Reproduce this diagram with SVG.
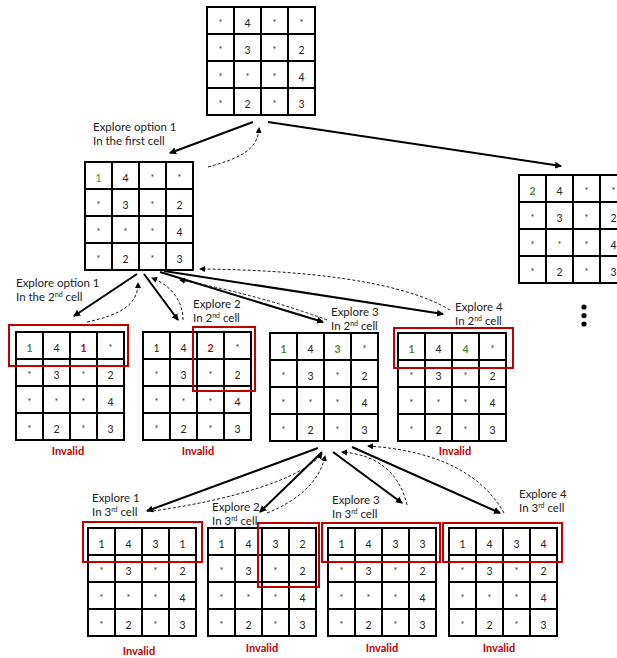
<svg xmlns="http://www.w3.org/2000/svg" width="617" height="658" viewBox="0 0 617 658">
<style>
.gl{fill:none;stroke:#000;stroke-width:2}
.n{font-family:Lato,"Liberation Sans",sans-serif;font-size:10.5px;text-anchor:middle;fill:#222}
.s{font-family:Lato,"Liberation Sans",sans-serif;font-size:9px;text-anchor:middle;fill:#333}
.g{fill:#548235}
.b{font-weight:bold}
.r{fill:#c00000;font-weight:bold}
.rb{fill:none;stroke:#c00000;stroke-width:2}
.lb{font-family:Lato,"Liberation Sans",sans-serif;font-size:11.5px;fill:#222}
.sup{font-size:7px}
.inv{font-family:Lato,"Liberation Sans",sans-serif;font-size:11px;font-weight:bold;fill:#c00000;text-anchor:middle}
.sa{fill:none;stroke:#000;stroke-width:2}
.da{fill:none;stroke:#000;stroke-width:0.9;stroke-dasharray:3 2}
</style>
<defs>
<marker id="ah" markerWidth="8" markerHeight="8" refX="6" refY="4" orient="auto" markerUnits="userSpaceOnUse"><path d="M0,0.5 L7,4 L0,7.5 Z" fill="#000"/></marker>
<marker id="dh" markerWidth="7" markerHeight="7" refX="5" refY="3.5" orient="auto" markerUnits="userSpaceOnUse"><path d="M0,0.5 L6,3.5 L0,6.5 Z" fill="#000"/></marker>
<path id="lines" d="M0,0 H108 V108 H0 Z M27,0 V108 M54,0 V108 M81,0 V108 M0,27 H108 M0,54 H108 M0,81 H108"/>
</defs>

<g id="connectors">
<path class="sa" d="M253,122 L170,153" marker-end="url(#ah)"/>
<path class="sa" d="M268,122 L561,166" marker-end="url(#ah)"/>
<path class="da" d="M208,167 C240,158 258,150 259,128" marker-end="url(#dh)"/>
<path class="sa" d="M137,274 L74,316" marker-end="url(#ah)"/>
<path class="sa" d="M144,274 L178,320" marker-end="url(#ah)"/>
<path class="sa" d="M160,272 L323,322" marker-end="url(#ah)"/>
<path class="sa" d="M164,271 L443,314" marker-end="url(#ah)"/>
<path class="da" d="M87,322 C120,315 138,305 138,283" marker-end="url(#dh)"/>
<path class="da" d="M183,320 C183,300 170,285 152,278" marker-end="url(#dh)"/>
<path class="da" d="M327,320 Q260,295 180,280" marker-end="url(#dh)"/>
<path class="da" d="M450,310 C400,280 300,270 200,269" marker-end="url(#dh)"/>
<path class="sa" d="M318,448 L147,511" marker-end="url(#ah)"/>
<path class="sa" d="M322,452 L260,512" marker-end="url(#ah)"/>
<path class="sa" d="M333,452 L402,503" marker-end="url(#ah)"/>
<path class="sa" d="M352,447 L500,513" marker-end="url(#ah)"/>
<path class="da" d="M153,511 C230,500 300,480 322,454" marker-end="url(#dh)"/>
<path class="da" d="M267,513 C300,500 320,480 325,456" marker-end="url(#dh)"/>
<path class="da" d="M407,505 C400,475 380,455 342,452" marker-end="url(#dh)"/>
<path class="da" d="M504,513 C480,470 430,450 368,446" marker-end="url(#dh)"/>
</g>

<g id="g0" transform="translate(207,7)">
<use href="#lines" class="gl"/>
<text class="s" x="13.5" y="19">*</text><text class="n" x="40.5" y="20">4</text><text class="s" x="67.5" y="19">*</text><text class="s" x="94.5" y="19">*</text>
<text class="s" x="13.5" y="46">*</text><text class="n" x="40.5" y="47">3</text><text class="s" x="67.5" y="46">*</text><text class="n" x="94.5" y="47">2</text>
<text class="s" x="13.5" y="73">*</text><text class="s" x="40.5" y="73">*</text><text class="s" x="67.5" y="73">*</text><text class="n" x="94.5" y="74">4</text>
<text class="s" x="13.5" y="100">*</text><text class="n" x="40.5" y="101">2</text><text class="s" x="67.5" y="100">*</text><text class="n" x="94.5" y="101">3</text>
</g>

<g id="g1" transform="translate(85,162)">
<use href="#lines" class="gl"/>
<text class="n g" x="13.5" y="20">1</text><text class="n" x="40.5" y="20">4</text><text class="s" x="67.5" y="19">*</text><text class="s" x="94.5" y="19">*</text>
<text class="s" x="13.5" y="46">*</text><text class="n" x="40.5" y="47">3</text><text class="s" x="67.5" y="46">*</text><text class="n" x="94.5" y="47">2</text>
<text class="s" x="13.5" y="73">*</text><text class="s" x="40.5" y="73">*</text><text class="s" x="67.5" y="73">*</text><text class="n" x="94.5" y="74">4</text>
<text class="s" x="13.5" y="100">*</text><text class="n" x="40.5" y="101">2</text><text class="s" x="67.5" y="100">*</text><text class="n" x="94.5" y="101">3</text>
</g>

<g id="g2" transform="translate(519,175)">
<use href="#lines" class="gl"/>
<text class="n g b" x="13.5" y="20">2</text><text class="n" x="40.5" y="20">4</text><text class="s" x="67.5" y="19">*</text><text class="s" x="94.5" y="19">*</text>
<text class="s" x="13.5" y="46">*</text><text class="n" x="40.5" y="47">3</text><text class="s" x="67.5" y="46">*</text><text class="n" x="94.5" y="47">2</text>
<text class="s" x="13.5" y="73">*</text><text class="s" x="40.5" y="73">*</text><text class="s" x="67.5" y="73">*</text><text class="n" x="94.5" y="74">4</text>
<text class="s" x="13.5" y="100">*</text><text class="n" x="40.5" y="101">2</text><text class="s" x="67.5" y="100">*</text><text class="n" x="94.5" y="101">3</text>
</g>

<g id="dots" fill="#000">
<circle cx="584" cy="307" r="2.6"/><circle cx="584" cy="315.5" r="2.6"/><circle cx="584" cy="324" r="2.6"/>
</g>

<g id="l3a" transform="translate(16,332)">
<use href="#lines" class="gl"/>
<text class="n g b" x="13.5" y="20">1</text><text class="n" x="40.5" y="20">4</text><text class="n r" x="67.5" y="20">1</text><text class="s" x="94.5" y="19">*</text>
<text class="s" x="13.5" y="46">*</text><text class="n" x="40.5" y="47">3</text><text class="s" x="67.5" y="46">*</text><text class="n" x="94.5" y="47">2</text>
<text class="s" x="13.5" y="73">*</text><text class="s" x="40.5" y="73">*</text><text class="s" x="67.5" y="73">*</text><text class="n" x="94.5" y="74">4</text>
<text class="s" x="13.5" y="100">*</text><text class="n" x="40.5" y="101">2</text><text class="s" x="67.5" y="100">*</text><text class="n" x="94.5" y="101">3</text>
<rect class="rb" x="-7" y="-7" width="119" height="41"/>
</g>

<g id="l3b" transform="translate(143,332)">
<use href="#lines" class="gl"/>
<text class="n" x="13.5" y="20">1</text><text class="n" x="40.5" y="20">4</text><text class="n r" x="67.5" y="20">2</text><text class="s" x="94.5" y="19">*</text>
<text class="s" x="13.5" y="46">*</text><text class="n" x="40.5" y="47">3</text><text class="s" x="67.5" y="46">*</text><text class="n" x="94.5" y="47">2</text>
<text class="s" x="13.5" y="73">*</text><text class="s" x="40.5" y="73">*</text><text class="s" x="67.5" y="73">*</text><text class="n" x="94.5" y="74">4</text>
<text class="s" x="13.5" y="100">*</text><text class="n" x="40.5" y="101">2</text><text class="s" x="67.5" y="100">*</text><text class="n" x="94.5" y="101">3</text>
<rect class="rb" x="50" y="-5" width="62" height="64"/>
</g>

<g id="l3c" transform="translate(270,333)">
<use href="#lines" class="gl"/>
<text class="n g b" x="13.5" y="20">1</text><text class="n" x="40.5" y="20">4</text><text class="n g b" x="67.5" y="20">3</text><text class="s" x="94.5" y="19">*</text>
<text class="s" x="13.5" y="46">*</text><text class="n" x="40.5" y="47">3</text><text class="s" x="67.5" y="46">*</text><text class="n" x="94.5" y="47">2</text>
<text class="s" x="13.5" y="73">*</text><text class="s" x="40.5" y="73">*</text><text class="s" x="67.5" y="73">*</text><text class="n" x="94.5" y="74">4</text>
<text class="s" x="13.5" y="100">*</text><text class="n" x="40.5" y="101">2</text><text class="s" x="67.5" y="100">*</text><text class="n" x="94.5" y="101">3</text>
</g>

<g id="l3d" transform="translate(398,333)">
<use href="#lines" class="gl"/>
<text class="n g b" x="13.5" y="20">1</text><text class="n" x="40.5" y="20">4</text><text class="n g b" x="67.5" y="20">4</text><text class="s" x="94.5" y="19">*</text>
<text class="s" x="13.5" y="46">*</text><text class="n" x="40.5" y="47">3</text><text class="s" x="67.5" y="46">*</text><text class="n" x="94.5" y="47">2</text>
<text class="s" x="13.5" y="73">*</text><text class="s" x="40.5" y="73">*</text><text class="s" x="67.5" y="73">*</text><text class="n" x="94.5" y="74">4</text>
<text class="s" x="13.5" y="100">*</text><text class="n" x="40.5" y="101">2</text><text class="s" x="67.5" y="100">*</text><text class="n" x="94.5" y="101">3</text>
<rect class="rb" x="-4" y="-5" width="119" height="40"/>
</g>

<g id="l4a" transform="translate(88,528)">
<use href="#lines" class="gl"/>
<text class="n" x="13.5" y="20">1</text><text class="n" x="40.5" y="20">4</text><text class="n" x="67.5" y="20">3</text><text class="n" x="94.5" y="20">1</text>
<text class="s" x="13.5" y="46">*</text><text class="n" x="40.5" y="47">3</text><text class="s" x="67.5" y="46">*</text><text class="n" x="94.5" y="47">2</text>
<text class="s" x="13.5" y="73">*</text><text class="s" x="40.5" y="73">*</text><text class="s" x="67.5" y="73">*</text><text class="n" x="94.5" y="74">4</text>
<text class="s" x="13.5" y="100">*</text><text class="n" x="40.5" y="101">2</text><text class="s" x="67.5" y="100">*</text><text class="n" x="94.5" y="101">3</text>
<rect class="rb" x="-5" y="-6" width="119" height="40"/>
</g>

<g id="l4b" transform="translate(208,528)">
<use href="#lines" class="gl"/>
<text class="n" x="13.5" y="20">1</text><text class="n" x="40.5" y="20">4</text><text class="n" x="67.5" y="20">3</text><text class="n" x="94.5" y="20">2</text>
<text class="s" x="13.5" y="46">*</text><text class="n" x="40.5" y="47">3</text><text class="s" x="67.5" y="46">*</text><text class="n" x="94.5" y="47">2</text>
<text class="s" x="13.5" y="73">*</text><text class="s" x="40.5" y="73">*</text><text class="s" x="67.5" y="73">*</text><text class="n" x="94.5" y="74">4</text>
<text class="s" x="13.5" y="100">*</text><text class="n" x="40.5" y="101">2</text><text class="s" x="67.5" y="100">*</text><text class="n" x="94.5" y="101">3</text>
<rect class="rb" x="50" y="-5" width="61" height="64"/>
</g>

<g id="l4c" transform="translate(328,528)">
<use href="#lines" class="gl"/>
<text class="n" x="13.5" y="20">1</text><text class="n" x="40.5" y="20">4</text><text class="n" x="67.5" y="20">3</text><text class="n" x="94.5" y="20">3</text>
<text class="s" x="13.5" y="46">*</text><text class="n" x="40.5" y="47">3</text><text class="s" x="67.5" y="46">*</text><text class="n" x="94.5" y="47">2</text>
<text class="s" x="13.5" y="73">*</text><text class="s" x="40.5" y="73">*</text><text class="s" x="67.5" y="73">*</text><text class="n" x="94.5" y="74">4</text>
<text class="s" x="13.5" y="100">*</text><text class="n" x="40.5" y="101">2</text><text class="s" x="67.5" y="100">*</text><text class="n" x="94.5" y="101">3</text>
<rect class="rb" x="-6" y="-5" width="118" height="39"/>
</g>

<g id="l4d" transform="translate(449,528)">
<use href="#lines" class="gl"/>
<text class="n" x="13.5" y="20">1</text><text class="n" x="40.5" y="20">4</text><text class="n" x="67.5" y="20">3</text><text class="n" x="94.5" y="20">4</text>
<text class="s" x="13.5" y="46">*</text><text class="n" x="40.5" y="47">3</text><text class="s" x="67.5" y="46">*</text><text class="n" x="94.5" y="47">2</text>
<text class="s" x="13.5" y="73">*</text><text class="s" x="40.5" y="73">*</text><text class="s" x="67.5" y="73">*</text><text class="n" x="94.5" y="74">4</text>
<text class="s" x="13.5" y="100">*</text><text class="n" x="40.5" y="101">2</text><text class="s" x="67.5" y="100">*</text><text class="n" x="94.5" y="101">3</text>
<rect class="rb" x="-6" y="-5" width="119" height="39"/>
</g>

<g id="labels">
<text class="lb" x="93" y="131">Explore option 1</text>
<text class="lb" x="93" y="145">In the first cell</text>
<text class="lb" x="16" y="287">Explore option 1</text>
<text class="lb" x="16" y="301">In the 2<tspan class="sup" dy="-4">nd</tspan><tspan dy="4">  cell</tspan></text>
<text class="lb" x="193" y="308">Explore 2</text>
<text class="lb" x="193" y="322">In 2<tspan class="sup" dy="-4">nd</tspan><tspan dy="4"> cell</tspan></text>
<text class="lb" x="331" y="316">Explore 3</text>
<text class="lb" x="331" y="330">In 2<tspan class="sup" dy="-4">nd</tspan><tspan dy="4"> cell</tspan></text>
<text class="lb" x="455" y="311">Explore 4</text>
<text class="lb" x="455" y="325">In 2<tspan class="sup" dy="-4">nd</tspan><tspan dy="4"> cell</tspan></text>
<text class="lb" x="92" y="502">Explore 1</text>
<text class="lb" x="92" y="516">In 3<tspan class="sup" dy="-4">rd</tspan><tspan dy="4"> cell</tspan></text>
<text class="lb" x="212" y="511">Explore 2</text>
<text class="lb" x="212" y="525">In 3<tspan class="sup" dy="-4">rd</tspan><tspan dy="4"> cell</tspan></text>
<text class="lb" x="332" y="504">Explore 3</text>
<text class="lb" x="332" y="518">In 3<tspan class="sup" dy="-4">rd</tspan><tspan dy="4"> cell</tspan></text>
<text class="lb" x="519" y="498">Explore 4</text>
<text class="lb" x="519" y="512">In 3<tspan class="sup" dy="-4">rd</tspan><tspan dy="4"> cell</tspan></text>
<text class="inv" x="68" y="455">Invalid</text>
<text class="inv" x="198" y="455">Invalid</text>
<text class="inv" x="455" y="455">Invalid</text>
<text class="inv" x="139" y="655">Invalid</text>
<text class="inv" x="262" y="652">Invalid</text>
<text class="inv" x="382" y="652">Invalid</text>
<text class="inv" x="499" y="652">Invalid</text>
</g>
</svg>
